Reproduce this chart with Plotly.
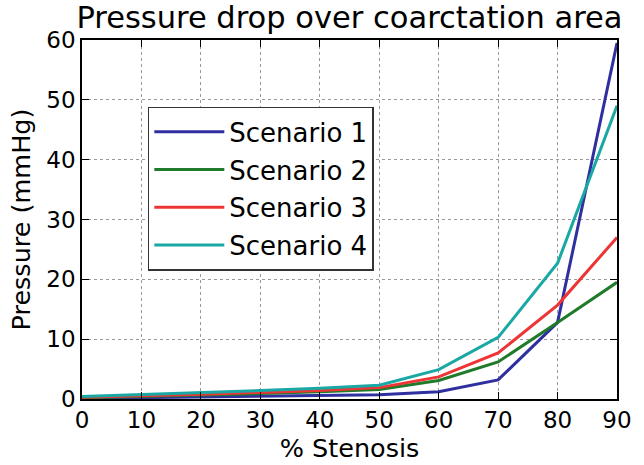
import plotly.graph_objects as go

stenosis = [0, 10, 20, 30, 40, 50, 60, 70, 80, 90]
scenario1 = [0.1, 0.2, 0.3, 0.4, 0.5, 0.7, 1.2, 3.2, 12.8, 59.5]
scenario2 = [0.2, 0.4, 0.6, 0.9, 1.2, 1.6, 3.1, 6.2, 12.8, 19.5]
scenario3 = [0.3, 0.5, 0.8, 1.1, 1.4, 1.9, 3.7, 7.7, 15.7, 27.0]
scenario4 = [0.4, 0.7, 1.0, 1.4, 1.8, 2.3, 4.9, 10.3, 22.7, 49.0]

names = ["Scenario 1", "Scenario 2", "Scenario 3", "Scenario 4"]
colors = ["#2f2f9f", "#1f7a2a", "#ee3535", "#1aa8a4"]
series = [scenario1, scenario2, scenario3, scenario4]

fig = go.Figure()
for n, c, s in zip(names, colors, series):
    fig.add_trace(go.Scatter(x=stenosis, y=s, mode="lines", name=n,
                             line=dict(color=c, width=3), legendgroup=n))

font = "DejaVu Sans"
axis_common = dict(
    showline=True, linecolor="black", linewidth=1.5, mirror="ticks",
    ticks="inside", ticklen=7, tickcolor="black",
    showgrid=True, gridcolor="#9a9a9a", griddash="dot", gridwidth=1,
    zeroline=False, tickfont=dict(family=font, size=23, color="black"),
)
fig.update_xaxes(range=[0, 90], dtick=10,
                 title=dict(text="% Stenosis", font=dict(family=font, size=25.5, color="black"), standoff=2),
                 **axis_common)
fig.update_yaxes(range=[0, 60], dtick=10,
                 title=dict(text="Pressure (mmHg)", font=dict(family=font, size=25.5, color="black"), standoff=8),
                 **axis_common)

fig.update_layout(
    width=644, height=465,
    margin=dict(l=82, r=16, t=40, b=62),
    paper_bgcolor="white", plot_bgcolor="white",
    title=dict(text="Pressure drop over coarctation area", xref="paper", x=0.5, xanchor="center",
               yref="container", y=0.985, yanchor="top",
               font=dict(family=font, size=30.5, color="black")),
    legend=dict(x=0.123, y=0.814, xanchor="left", yanchor="top",
                bordercolor="#333333", borderwidth=1.5, bgcolor="white",
                font=dict(family=font, size=26, color="black"),
                itemwidth=70, tracegroupgap=1),
    showlegend=True,
)

fig.write_html("out.html")
